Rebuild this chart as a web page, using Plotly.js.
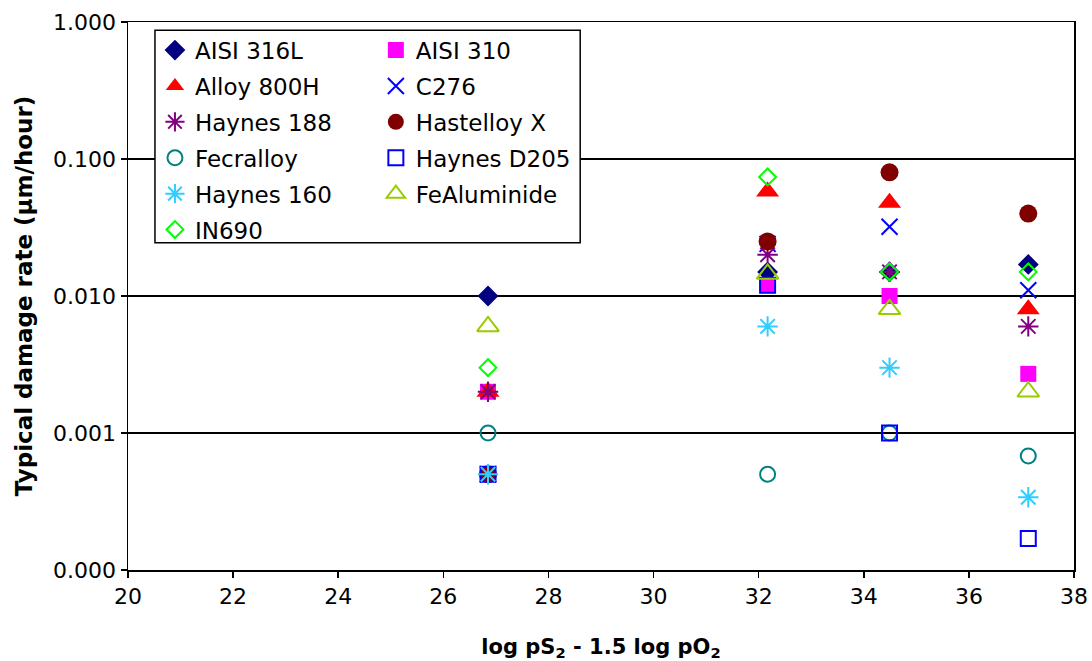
<!DOCTYPE html>
<html>
<head>
<meta charset="utf-8">
<script src="https://cdn.plot.ly/plotly-3.0.1.min.js"></script>
<style>
html,body{margin:0;padding:0;background:#fff;}
#chart{width:1092px;height:661px;}
</style>
</head>
<body>
<div id="chart"></div>
<script>
// x positions (log pS2 - 1.5 log pO2)
var xVals = [26.85, 32.17, 34.49, 37.13];

// Typical damage rates (mm/hour) per alloy
var aisi316L    = [0.010, 0.015, 0.015, 0.017];
var aisi310     = [0.002, 0.012, 0.010, 0.0027];
var alloy800H   = [0.002, 0.058, 0.048, 0.008];
var c276        = [0.0005, 0.024, 0.032, 0.011];
var haynes188   = [0.002, 0.020, 0.015, 0.006];
var hastelloyX  = [0.0005, 0.025, 0.080, 0.040];
var fecralloy   = [0.001, 0.0005, 0.001, 0.00068];
var haynesD205  = [0.0005, 0.012, 0.001, 0.00017];
var haynes160   = [0.0005, 0.006, 0.003, 0.00034];
var feAluminide = [0.006, 0.0145, 0.008, 0.002];
var in690       = [0.003, 0.074, 0.015, 0.015];

var yTickVals = [0.0001, 0.001, 0.01, 0.1, 1];
var yTickText = ['0.000', '0.001', '0.010', '0.100', '1.000'];

function tr(name, y, symbol, color, size, legendId, open) {
  var m = {symbol: symbol, size: size, color: color};
  if (open) { m.line = {color: color, width: 2}; }
  else { m.line = {color: color, width: 0}; }
  return {
    type: 'scatter', mode: 'markers', name: name,
    x: xVals, y: y, marker: m,
    legend: legendId, legendgroup: name
  };
}

var data = [
  tr('AISI 316L', aisi316L, 'diamond', '#000080', 16, 'legend', false),
  tr('AISI 310', aisi310, 'square', '#FF00FF', 16, 'legend2', false),
  tr('Alloy 800H', alloy800H, 'triangle-up', '#FF0000', 20, 'legend', false),
  tr('C276', c276, 'x-thin-open', '#0000FF', 16, 'legend2', true),
  tr('Haynes 188', haynes188, 'asterisk-open', '#800080', 17, 'legend', true),
  tr('Hastelloy X', hastelloyX, 'circle', '#800000', 18, 'legend2', false),
  tr('Fecralloy', fecralloy, 'circle-open', '#008080', 15, 'legend', true),
  tr('Haynes D205', haynesD205, 'square-open', '#0000FF', 15, 'legend2', true),
  tr('Haynes 160', haynes160, 'asterisk-open', '#33CCFF', 17, 'legend', true),
  tr('FeAluminide', feAluminide, 'triangle-up-open', '#99CC00', 19, 'legend2', true),
  tr('IN690', in690, 'diamond-open', '#00FF00', 13, 'legend', true)
];

var fontFam = 'DejaVu Sans, Arial, sans-serif';

var layout = {
  width: 1092, height: 661,
  margin: {l: 128, r: 18, t: 22, b: 91},
  paper_bgcolor: '#ffffff', plot_bgcolor: '#ffffff',
  showlegend: true,
  font: {family: fontFam, color: '#000000', size: 22},
  xaxis: {
    range: [20, 38], dtick: 2, tick0: 20,
    showgrid: false, zeroline: false,
    showline: true, linecolor: '#000000', linewidth: 1.5, mirror: true,
    ticks: 'outside', ticklen: 6, tickcolor: '#000000', tickwidth: 1.5,
    tickfont: {family: fontFam, size: 22, color: '#000000'},
    title: {text: 'log pS<sub>2</sub> - 1.5 log pO<sub>2</sub>', font: {family: fontFam, size: 21, weight: 'bold', color: '#000'}, standoff: 33}
  },
  yaxis: {
    type: 'log', range: [-4, 0],
    tickvals: yTickVals, ticktext: yTickText,
    showgrid: true, gridcolor: '#000000', gridwidth: 1.5,
    zeroline: false,
    showline: true, linecolor: '#000000', linewidth: 1.5, mirror: true,
    ticks: 'outside', ticklen: 6, tickcolor: '#000000', tickwidth: 1.5,
    tickfont: {family: fontFam, size: 22, color: '#000000'},
    title: {text: 'Typical damage rate (μm/hour)', font: {family: fontFam, size: 23, weight: 'bold', color: '#000'}, standoff: 14}
  },
  legend: {
    x: 0.0285, y: 0.988, xanchor: 'left', yanchor: 'top',
    bgcolor: 'rgba(0,0,0,0)', borderwidth: 0,
    font: {family: fontFam, size: 23, color: '#000'},
    tracegroupgap: 3, traceorder: 'grouped'
  },
  legend2: {
    x: 0.262, y: 0.988, xanchor: 'left', yanchor: 'top',
    bgcolor: 'rgba(0,0,0,0)', borderwidth: 0,
    font: {family: fontFam, size: 23, color: '#000'},
    tracegroupgap: 3, traceorder: 'grouped'
  },
  shapes: [{
    type: 'rect', xref: 'paper', yref: 'paper', layer: 'above',
    x0: 0.0285, x1: 0.478, y0: 0.597, y1: 0.985,
    line: {color: '#000000', width: 1.5}, fillcolor: '#ffffff'
  }]
};

Plotly.newPlot('chart', data, layout, {displayModeBar: false, staticPlot: true});
</script>
</body>
</html>
